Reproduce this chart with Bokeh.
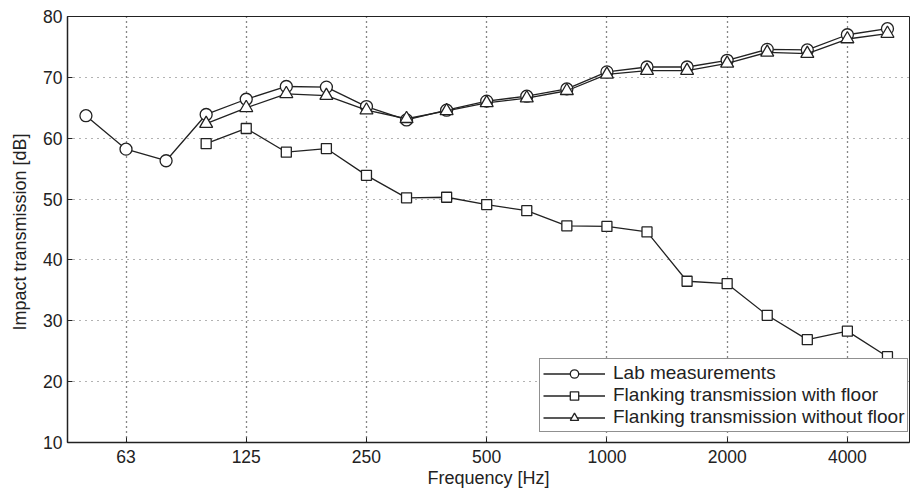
from bokeh.plotting import figure
from bokeh.models import FixedTicker, Range1d, Legend, LegendItem
from bokeh.embed import file_html
from bokeh.resources import INLINE

bands = ["50", "63", "80", "100", "125", "160", "200", "250", "315", "400", "500",
         "630", "800", "1000", "1250", "1600", "2000", "2500", "3150", "4000", "5000"]
tick_labels = ["63", "125", "250", "500", "1000", "2000", "4000"]
y_ticks = [10, 20, 30, 40, 50, 60, 70, 80]

lab = [63.7, 58.2, 56.3, 63.9, 66.4, 68.5, 68.4, 65.2, 63.0, 64.6, 66.1,
       66.9, 68.1, 70.9, 71.7, 71.7, 72.8, 74.6, 74.5, 77.0, 78.0]
with_floor = [59.1, 61.6, 57.7, 58.3, 53.9, 50.2, 50.3, 49.1,
              48.1, 45.6, 45.5, 44.6, 36.5, 36.1, 30.9, 26.9, 28.3, 24.1]
without_floor = [62.4, 65.0, 67.3, 67.0, 64.6, 63.2, 64.5, 65.8,
                 66.6, 67.8, 70.5, 71.1, 71.1, 72.3, 74.1, 73.9, 76.3, 77.2]

idx_all = list(range(len(bands)))
idx_floor = idx_all[3:]
tick_pos = [bands.index(t) for t in tick_labels]

FONT = "Liberation Sans"
TXT = "#222222"
p = figure(width=910, height=492, output_backend="svg", toolbar_location=None,
           x_range=Range1d(-0.46, 20.55), y_range=Range1d(10, 80),
           min_border_left=67, min_border_right=1, min_border_top=16, min_border_bottom=50)
p.background_fill_color = "white"
p.border_fill_color = "white"
p.outline_line_color = TXT
p.outline_line_width = 1

for ax in (p.xaxis[0], p.yaxis[0]):
    ax.major_tick_in = 5
    ax.major_tick_out = 0
    ax.minor_tick_in = 0
    ax.minor_tick_out = 0
    ax.axis_line_color = TXT
    ax.axis_line_width = 1.5
    ax.major_tick_line_color = TXT
    ax.major_label_text_font = FONT
    ax.major_label_text_font_size = "17.5px"
    ax.major_label_text_color = TXT
    ax.axis_label_text_font = FONT
    ax.axis_label_text_font_size = "18px"
    ax.axis_label_text_font_style = "normal"
    ax.axis_label_text_color = TXT

p.xaxis[0].ticker = FixedTicker(ticks=tick_pos)
p.xaxis[0].major_label_overrides = {pos: t for pos, t in zip(tick_pos, tick_labels)}
p.xaxis[0].axis_label = "Frequency [Hz]"
p.xaxis[0].axis_label_standoff = 2
p.xaxis[0].major_label_standoff = 7
p.yaxis[0].ticker = FixedTicker(ticks=y_ticks)
p.yaxis[0].axis_label = "Impact transmission  [dB]"
p.yaxis[0].axis_label_standoff = 10
p.yaxis[0].major_label_standoff = 5

p.xgrid.ticker = FixedTicker(ticks=tick_pos)
p.xgrid.grid_line_color = "#111111"
p.xgrid.grid_line_dash = "1 4"
p.xgrid.grid_line_width = 1.3
p.ygrid.ticker = FixedTicker(ticks=y_ticks[1:-1])
p.ygrid.grid_line_color = "#666666"
p.ygrid.grid_line_dash = "1 5"
p.ygrid.grid_line_width = 1

C = "#222222"
l1 = p.line(idx_all, lab, line_color=C, line_width=1.3)
s1 = p.scatter(idx_all, lab, marker="circle", size=12, line_color=C, fill_color="white", line_width=1.3)
l2 = p.line(idx_floor, with_floor, line_color=C, line_width=1.3)
s2 = p.scatter(idx_floor, with_floor, marker="square", size=10, line_color=C, fill_color="white", line_width=1.3)
l3 = p.line(idx_floor, without_floor, line_color=C, line_width=1.3)
s3 = p.scatter(idx_floor, without_floor, marker="triangle", size=13, line_color=C, fill_color="white", line_width=1.3)

legend = Legend(items=[
    LegendItem(label="Lab measurements", renderers=[l1, s1]),
    LegendItem(label="Flanking transmission with floor", renderers=[l2, s2]),
    LegendItem(label="Flanking transmission without floor", renderers=[l3, s3]),
], location=(472, 10))
legend.label_text_font = FONT
legend.label_text_font_size = "19px"
legend.label_text_color = TXT
legend.border_line_color = TXT
legend.border_line_width = 1.2
legend.background_fill_color = "white"
legend.background_fill_alpha = 1
legend.glyph_width = 62
legend.glyph_height = 21
legend.label_height = 21
legend.spacing = 0
legend.padding = 3
legend.margin = 0
legend.label_standoff = 8
p.add_layout(legend, "center")

open("out.html", "w").write(file_html(p, INLINE))
